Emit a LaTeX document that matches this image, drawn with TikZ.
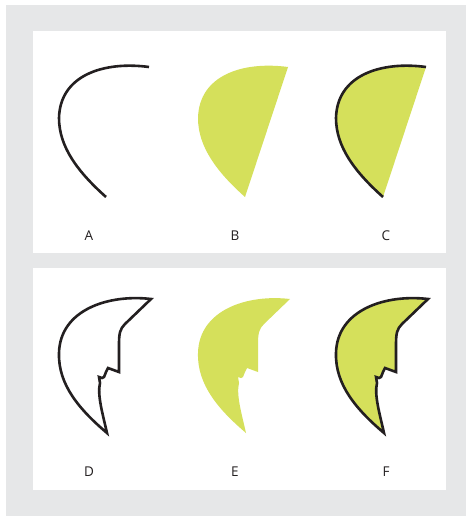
\documentclass[tikz,border=0pt]{standalone}
\usepackage{fontspec}
\setmainfont{Open Sans}
\definecolor{bggray}{HTML}{E6E7E8}
\definecolor{leaf}{HTML}{D5E05B}
\definecolor{ink}{HTML}{231F20}
\begin{document}
\begin{tikzpicture}[x=1pt,y=-1pt,
  outline/.style={draw=ink,line width=2.6pt,line join=miter},
  lbl/.style={font=\fontsize{13.5}{15}\selectfont,text=ink,inner sep=0pt}]
\useasboundingbox (0,0) rectangle (466,516);
\fill[white] (0,0) rectangle (466,516);
\fill[bggray] (6,5) rectangle (466,516);
\fill[white] (33,31) rectangle (446,253);
\fill[white] (33,268) rectangle (446,490);
% curves
\def\arcA{(149,67) .. controls (104,61) and (60,75) .. (59,118) .. controls (59,147) and (78,172) .. (106,197)}
\def\leafD{(151,299) .. controls (108,294) and (60,310) .. (59,353) .. controls (58,385) and (80,410) .. (107,433) .. controls (103,415) and (97,395) .. (100,383) -- (99,377) -- (102,378) -- (104,377) -- (106,372) -- (108,368) -- (119,372) -- (119,345) .. controls (119,333) and (120,329) .. (125,324) -- cycle}
% A
\draw[outline,line cap=butt] \arcA;
% B
\begin{scope}[xshift=139pt]
  \fill[leaf] \arcA -- cycle;
\end{scope}
% C
\begin{scope}[xshift=277pt]
  \fill[leaf] \arcA -- cycle;
  \draw[outline] \arcA;
\end{scope}
% D
\draw[outline] \leafD;
% E
\begin{scope}[xshift=139pt]
  \fill[leaf] \leafD;
\end{scope}
% F
\begin{scope}[xshift=277pt]
  \filldraw[fill=leaf,outline] \leafD;
\end{scope}
% labels
\node[lbl] (la) at (89,236) {A};
\node[lbl] (lb) at (235,236) {B};
\node[lbl] (lc) at (386,236) {C};
\node[lbl] (ld) at (89,472) {D};
\node[lbl] (le) at (235,472) {E};
\node[lbl] (lf) at (386,472) {F};
\end{tikzpicture}
\end{document}
